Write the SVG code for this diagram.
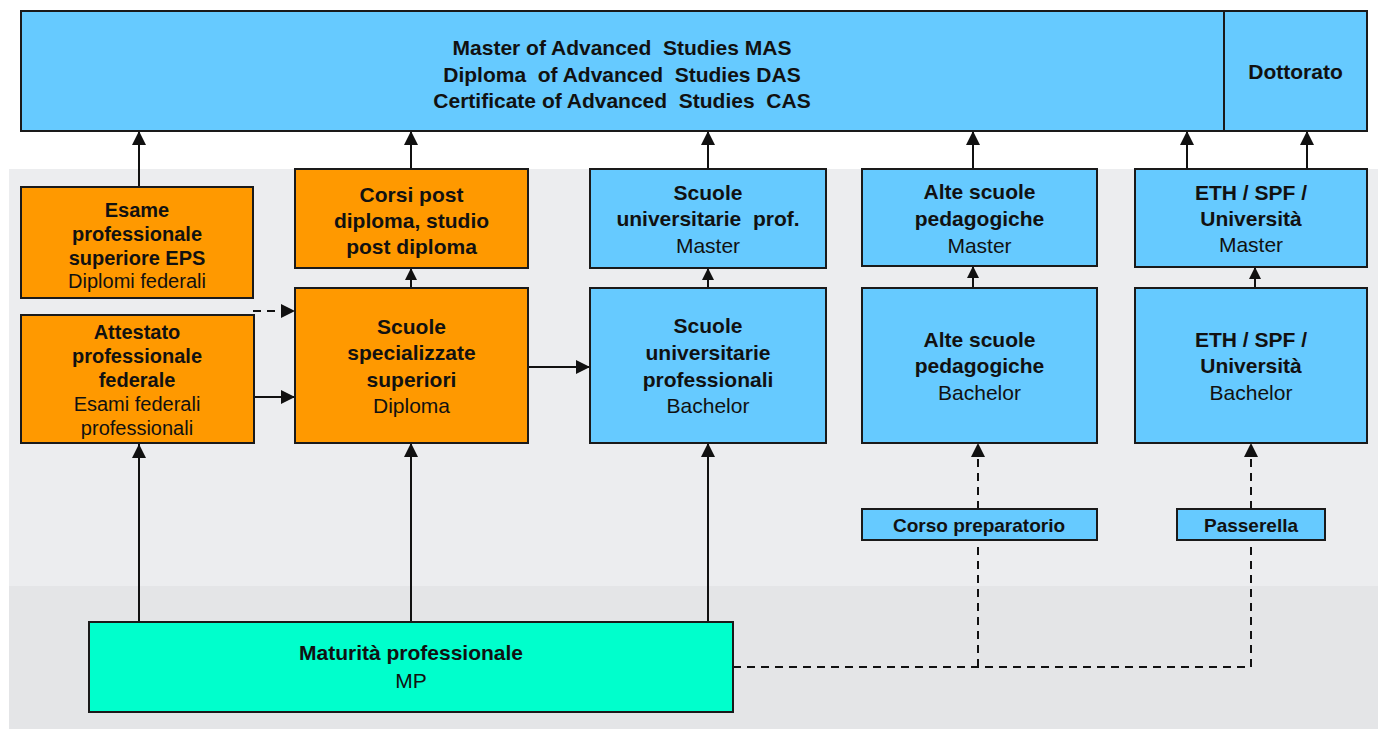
<svg xmlns="http://www.w3.org/2000/svg" width="1381" height="729" viewBox="0 0 1381 729">
<style>
.box{stroke:#1a1a1a;stroke-width:2}
.blue{fill:#66CAFF}
.orange{fill:#FF9900}
.mint{fill:#00FFCC}
text{font-family:"Liberation Sans",Arial,sans-serif;fill:#111;text-anchor:middle}
.b{font-weight:bold;font-size:21px}
.r{font-size:21px}
.bs{font-weight:bold;font-size:20px}
.rs{font-size:20px}
.bx{font-weight:bold;font-size:19px}
.ln{stroke:#111;stroke-width:2;fill:none;marker-end:url(#ah)}
.dash{stroke:#111;stroke-width:2;fill:none;stroke-dasharray:8 6}
</style>
<defs>
<marker id="ah" markerUnits="userSpaceOnUse" markerWidth="14" markerHeight="14" viewBox="0 0 14 14" refX="14" refY="7" orient="auto">
<path d="M0,0 L14,7 L0,14 z" fill="#111"/>
</marker>
<marker id="ahs" markerUnits="userSpaceOnUse" markerWidth="12" markerHeight="12" viewBox="0 0 12 12" refX="12" refY="6" orient="auto">
<path d="M0,0 L12,6 L0,12 z" fill="#111"/>
</marker>
</defs>
<rect x="0" y="0" width="1381" height="729" fill="#FFFFFF"/>
<rect x="9" y="169" width="1369" height="417" fill="#ECEDEF"/>
<rect x="9" y="586" width="1369" height="143" fill="#E4E5E7"/>

<g id="connectors">
<path class="ln" d="M139,187 V131"/>
<path class="ln" d="M411,169 V131"/>
<path class="ln" d="M708,169 V131"/>
<path class="ln" d="M973,169 V131"/>
<path class="ln" d="M1187,169 V131"/>
<path class="ln" d="M1307,169 V131"/>
<path class="ln" style="marker-end:url(#ahs)" d="M411,288 V268"/>
<path class="ln" style="marker-end:url(#ahs)" d="M708,288 V268"/>
<path class="ln" style="marker-end:url(#ahs)" d="M973,288 V266"/>
<path class="ln" style="marker-end:url(#ahs)" d="M1255,288 V267"/>
<path class="dash" style="marker-end:url(#ah)" d="M253,311 H295"/>
<path class="ln" d="M254,397 H295"/>
<path class="ln" d="M528,367 H590"/>
<path class="ln" d="M139,622 V444"/>
<path class="ln" d="M411,622 V443"/>
<path class="ln" d="M708,622 V443"/>
<path class="dash" d="M733,667 H1251 V540"/>
<path class="dash" d="M978,667 V540"/>
<path class="dash" style="marker-end:url(#ah)" d="M978,509 V443"/>
<path class="dash" style="marker-end:url(#ah)" d="M1251,509 V443"/>
</g>

<g id="top">
<rect class="box blue" x="21" y="11" width="1346" height="120"/>
<line x1="1224" y1="11" x2="1224" y2="131" stroke="#1a1a1a" stroke-width="2"/>
<text class="b" x="622" y="55" xml:space="preserve">Master of Advanced  Studies MAS</text>
<text class="b" x="622" y="82" xml:space="preserve">Diploma  of Advanced  Studies DAS</text>
<text class="b" x="622" y="108" xml:space="preserve">Certificate of Advanced  Studies  CAS</text>
</g>
<g id="dottorato">
<text class="b" x="1295.5" y="79">Dottorato</text>
</g>

<g id="esame">
<rect class="box orange" x="21" y="187" width="232" height="111"/>
<text class="bs" x="137" y="217">Esame</text>
<text class="bs" x="137" y="241">professionale</text>
<text class="bs" x="137" y="265">superiore EPS</text>
<text class="rs" x="137" y="288">Diplomi federali</text>
</g>

<g id="attestato">
<rect class="box orange" x="21" y="315" width="233" height="128"/>
<text class="bs" x="137" y="339">Attestato</text>
<text class="bs" x="137" y="363">professionale</text>
<text class="bs" x="137" y="387">federale</text>
<text class="rs" x="137" y="411">Esami federali</text>
<text class="rs" x="137" y="435">professionali</text>
</g>

<g id="corsi">
<rect class="box orange" x="295" y="169" width="233" height="99"/>
<text class="b" x="411.5" y="202">Corsi post</text>
<text class="b" x="411.5" y="228">diploma, studio</text>
<text class="b" x="411.5" y="254">post diploma</text>
</g>

<g id="sss">
<rect class="box orange" x="295" y="288" width="233" height="155"/>
<text class="b" x="411.5" y="334">Scuole</text>
<text class="b" x="411.5" y="360">specializzate</text>
<text class="b" x="411.5" y="387">superiori</text>
<text class="r" x="411.5" y="413">Diploma</text>
</g>

<g id="sup-master">
<rect class="box blue" x="590" y="169" width="236" height="99"/>
<text class="b" x="708" y="200">Scuole</text>
<text class="b" x="708" y="226" xml:space="preserve">universitarie  prof.</text>
<text class="r" x="708" y="253">Master</text>
</g>

<g id="sup-bachelor">
<rect class="box blue" x="590" y="288" width="236" height="155"/>
<text class="b" x="708" y="333">Scuole</text>
<text class="b" x="708" y="360">universitarie</text>
<text class="b" x="708" y="387">professionali</text>
<text class="r" x="708" y="413">Bachelor</text>
</g>

<g id="asp-master">
<rect class="box blue" x="862" y="169" width="235" height="97"/>
<text class="b" x="979.5" y="199">Alte scuole</text>
<text class="b" x="979.5" y="226">pedagogiche</text>
<text class="r" x="979.5" y="253">Master</text>
</g>

<g id="asp-bachelor">
<rect class="box blue" x="862" y="288" width="235" height="155"/>
<text class="b" x="979.5" y="347">Alte scuole</text>
<text class="b" x="979.5" y="373">pedagogiche</text>
<text class="r" x="979.5" y="400">Bachelor</text>
</g>

<g id="eth-master">
<rect class="box blue" x="1135" y="169" width="232" height="98"/>
<text class="b" x="1251" y="200">ETH / SPF /</text>
<text class="b" x="1251" y="226">Università</text>
<text class="r" x="1251" y="252">Master</text>
</g>

<g id="eth-bachelor">
<rect class="box blue" x="1135" y="288" width="232" height="155"/>
<text class="b" x="1251" y="347">ETH / SPF /</text>
<text class="b" x="1251" y="373">Università</text>
<text class="r" x="1251" y="400">Bachelor</text>
</g>

<g id="corso-preparatorio">
<rect class="box blue" x="862" y="509" width="235" height="31"/>
<text class="bx" x="979" y="532">Corso preparatorio</text>
</g>

<g id="passerella">
<rect class="box blue" x="1177" y="509" width="148" height="31"/>
<text class="bx" x="1251" y="532">Passerella</text>
</g>

<g id="mp">
<rect class="box mint" x="89" y="622" width="644" height="90"/>
<text class="b" x="411" y="660">Maturità professionale</text>
<text class="r" x="411" y="688">MP</text>
</g>
</svg>
